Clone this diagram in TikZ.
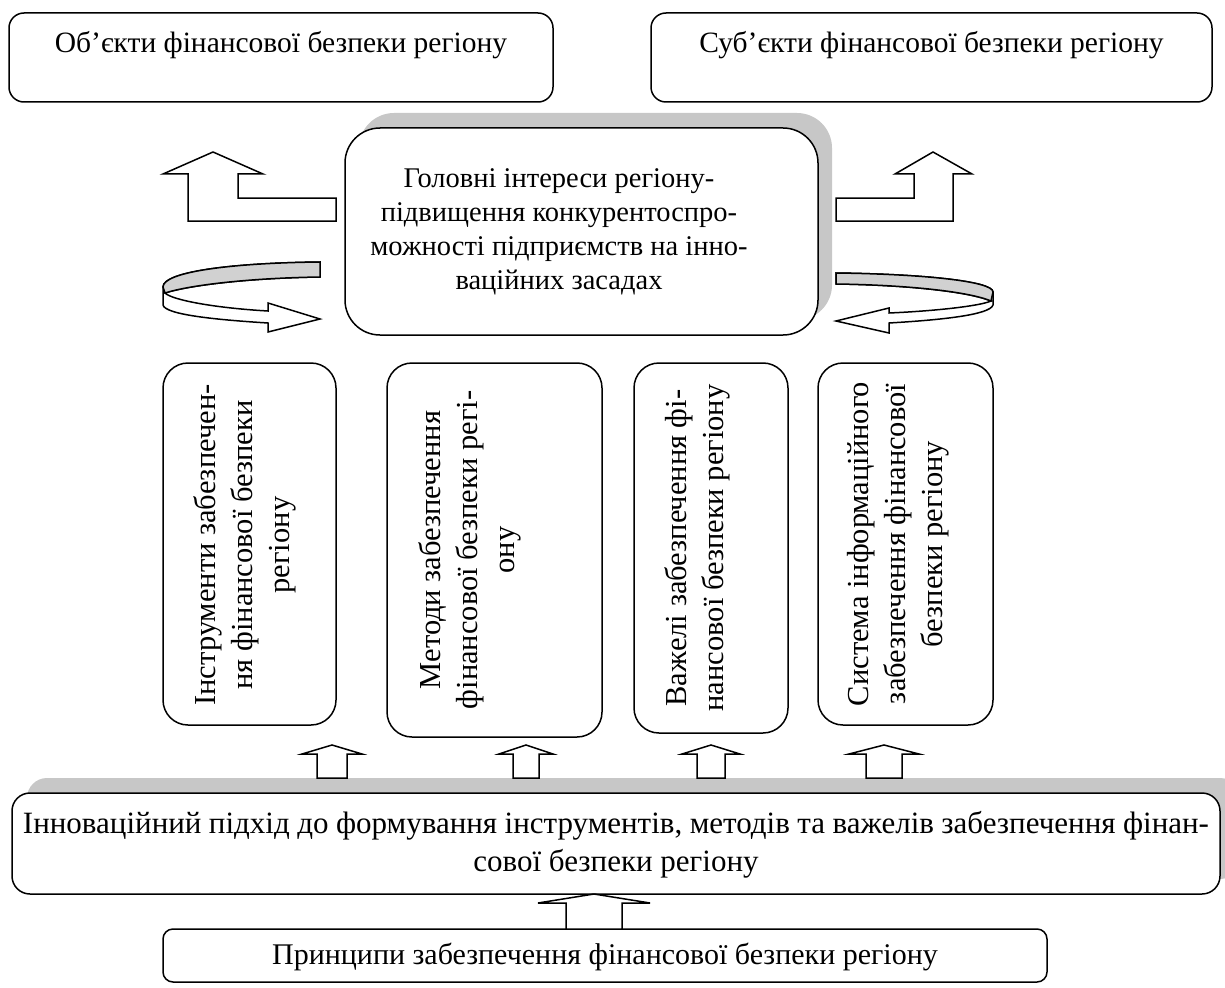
\documentclass[tikz,border=0pt]{standalone}
\usepackage{fontspec}
\setmainfont{Liberation Serif}
\newcommand\blkup[6]{\draw[blk] (#1,#4) -- ({#1+#2},#5) -- ({#1+#3},#5) -- ({#1+#3},#6) -- ({#1-#3},#6) -- ({#1-#3},#5) -- ({#1-#2},#5) -- cycle;}
\begin{document}
\begin{tikzpicture}[x=1pt,y=-1pt,
  box/.style={draw=black,line width=1.5pt,fill=white,rounded corners=#1,inner sep=0pt},
  box/.default=15pt,
  shad/.style={fill=black!22,draw=none,rounded corners=#1},
  shad/.default=20pt,
  txt/.style={inner sep=0pt,align=center,font=\fontsize{30.5}{37}\selectfont},
  blk/.style={draw=black,line width=1.5pt,fill=white,line join=miter},
  band/.style={fill=black!18,draw=none}]
\useasboundingbox (0,0) rectangle (1225,987);
\clip (0,0) rectangle (1225,987);
% top boxes
\node[box=15pt,minimum width=544pt,minimum height=89pt] (obj) at (281,57.5) {};
\node[txt,font=\fontsize{29.5}{36}\selectfont] (objt) at (281,45) {Об’єкти фінансової безпеки регіону};
\node[box=15pt,minimum width=561pt,minimum height=89pt] (subj) at (931.5,57.5) {};
\node[txt,font=\fontsize{29.5}{36}\selectfont] (subjt) at (931.5,45) {Суб’єкти фінансової безпеки регіону};
% central box
\fill[shad=35pt] (359,113) rectangle (832,320);
\node[box=35pt,minimum width=473pt,minimum height=207pt] (main) at (581.5,231.5) {};
\node[txt,font=\fontsize{28.5}{34}\selectfont] (maint) at (559,232) {Головні інтереси регіону-\\підвищення конкурентоспро-\\можності підприємств на інно-\\ваційних засадах};
% vertical boxes
\node[box=25pt,minimum width=173pt,minimum height=362pt] (v1) at (249.5,544) {};
\node[txt,rotate=90] (v1t) at (245,545) {Інструменти забезпечен-\\ня фінансової безпеки\\регіону};
\node[box=25pt,minimum width=215pt,minimum height=374pt] (v2) at (494.5,550) {};
\node[txt,rotate=90] (v2t) at (470,550) {Методи забезпечення\\фінансової безпеки регі-\\ону};
\node[box=25pt,minimum width=154pt,minimum height=370pt] (v3) at (711,548) {};
\node[txt,rotate=90] (v3t) at (697,548) {Важелі забезпечення фі-\\нансової безпеки регіону};
\node[box=25pt,minimum width=175pt,minimum height=362pt] (v4) at (905.5,544) {};
\node[txt,rotate=90] (v4t) at (898,544) {Система інформаційного\\забезпечення фінансової\\безпеки регіону};
% wide box
\fill[shad=20pt] (27,778) rectangle (1240,879);
\node[box=18pt,minimum width=1208pt,minimum height=101pt] (wide) at (616,843.5) {};
\node[txt,font=\fontsize{31}{38}\selectfont] (widet) at (616,845) {\makebox[1186pt][s]{Інноваційний підхід до формування інструментів, методів та важелів забезпечення фінан-}\\сової безпеки регіону};
% bottom box
\node[box=10pt,minimum width=884pt,minimum height=53pt] (bot) at (605,955.5) {};
\node[txt,font=\fontsize{30}{37}\selectfont] (bott) at (605,957) {Принципи забезпечення фінансової безпеки регіону};
% up arrows
\blkup{332}{30}{15}{745}{754}{778}
\blkup{526}{27}{13}{745}{754}{778}
\blkup{711}{29}{14}{745}{754}{778}
\blkup{884}{35}{18}{745}{754}{778}
\blkup{594}{56}{28}{894}{903}{929}
% L arrows
\draw[blk] (213,152) -- (263,174) -- (238,174) -- (238,198) -- (336,198) -- (336,221) -- (188,221) -- (188,174) -- (163,174) -- cycle;
\draw[blk] (933,152) -- (972,174) -- (953,174) -- (953,221) -- (836,221) -- (836,198) -- (914,198) -- (914,174) -- (895,174) -- cycle;
% curved arrow left
\draw[blk] (320,262) .. controls (230,263) and (163,272) .. (163,287) -- (163,305) .. controls (165,315) and (220,320) .. (268,323) -- (268,332) -- (320,319) -- (268,303) -- (268,311) .. controls (215,308) and (172,300) .. (165,293) .. controls (190,285) and (250,278) .. (320,277) -- cycle;
\fill[band] (320,262) .. controls (230,263) and (163,272) .. (163,287) -- (165,293) .. controls (190,285) and (250,278) .. (320,277) -- cycle;
\draw[line width=1.5pt] (320,262) .. controls (230,263) and (163,272) .. (163,287) -- (165,293) .. controls (190,285) and (250,278) .. (320,277) -- cycle;
% curved arrow right
\draw[blk] (836,273) .. controls (920,274) and (993,281) .. (993,292) -- (993,305) .. controls (990,315) and (940,320) .. (889,323) -- (889,333) -- (836,321) -- (889,308) -- (889,313) .. controls (935,311) and (980,306) .. (991,301) .. controls (970,292) and (910,285) .. (836,284) -- cycle;
\fill[band] (836,273) .. controls (920,274) and (993,281) .. (993,292) -- (991,301) .. controls (970,292) and (910,285) .. (836,284) -- cycle;
\draw[line width=1.5pt] (836,273) .. controls (920,274) and (993,281) .. (993,292) -- (991,301) .. controls (970,292) and (910,285) .. (836,284) -- cycle;
\end{tikzpicture}
\end{document}
